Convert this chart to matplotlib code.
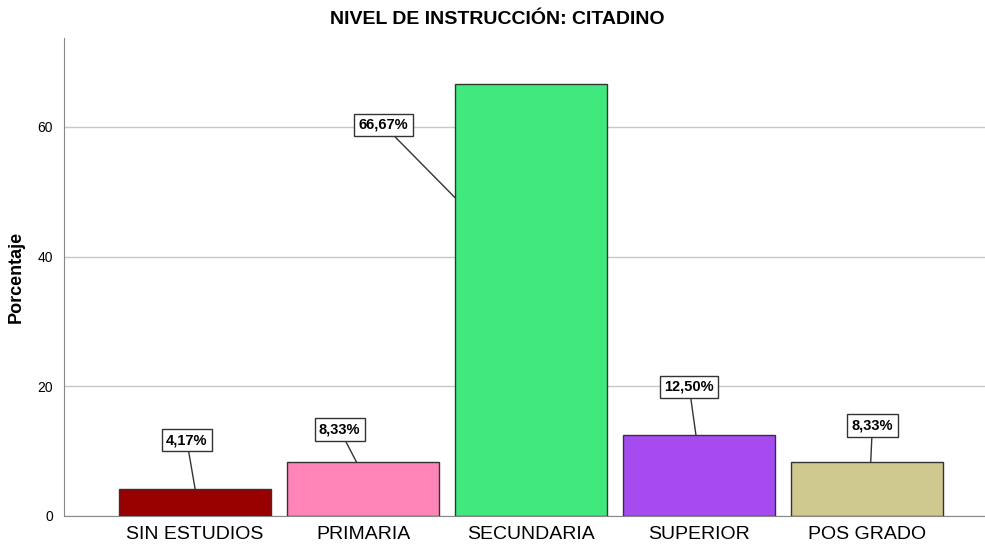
import matplotlib
matplotlib.use("Agg")
import matplotlib.pyplot as plt

categorias = ["SIN ESTUDIOS", "PRIMARIA", "SECUNDARIA", "SUPERIOR", "POS GRADO"]
porcentajes = [4.17, 8.33, 66.67, 12.50, 8.33]
etiquetas = ["4,17%", "8,33%", "66,67%", "12,50%", "8,33%"]
colores = ["#990000", "#FF85B8", "#40E87E", "#A64BF0", "#CFC88F"]

# where each label box sits and where its leader line touches the bar
caja_x = [-0.05, 0.86, 1.12, 2.94, 4.03]
caja_y = [11.7, 13.3, 60.3, 19.9, 14.0]
punta_x = [0.0, 0.96, 1.55, 2.98, 4.02]
punta_y = [4.17, 8.33, 49.0, 12.50, 8.33]

plt.rcParams["font.family"] = ["Liberation Sans", "DejaVu Sans"]

fig = plt.figure(figsize=(9.85, 5.44), dpi=100)
ax = fig.add_axes([0.065, 0.0515, 0.935, 0.8785])

pos = list(range(len(categorias)))
ax.bar(pos, porcentajes, width=0.905, color=colores, edgecolor="#333333", linewidth=1, zorder=3)

for i in pos:
    ax.annotate(etiquetas[i], xy=(punta_x[i], punta_y[i]), xytext=(caja_x[i], caja_y[i]),
                ha="center", va="center", fontsize=10.5, fontweight="bold",
                family=["Liberation Sans Narrow", "Liberation Sans", "DejaVu Sans"],
                bbox=dict(boxstyle="square,pad=0.3", fc="white", ec="#333333", lw=1),
                arrowprops=dict(arrowstyle="-", color="#333333", lw=1, shrinkA=0, shrinkB=0),
                zorder=5)

ax.set_xlim(-0.78, 4.70)
ax.set_ylim(0, 73.7)
ax.set_yticks([0, 20, 40, 60])
ax.set_xticks(pos)
ax.set_xticklabels(categorias, fontsize=14)
ax.tick_params(axis="x", length=0, pad=7)
ax.tick_params(axis="y", length=4, color="#C8C8C8", direction="in", labelsize=10, pad=8)
ax.yaxis.grid(True, color="#C8C8C8", linewidth=1, zorder=0)
ax.set_axisbelow(True)

for s in ["top", "right"]:
    ax.spines[s].set_visible(False)
ax.spines["left"].set_color("#888888")
ax.spines["bottom"].set_color("#888888")

ax.set_ylabel("Porcentaje", fontsize=13, fontweight="bold", labelpad=9)
ax.set_title("NIVEL DE INSTRUCCIÓN: CITADINO", fontsize=14, fontweight="bold", pad=10, x=0.47)

plt.savefig("out.png", dpi=100)
